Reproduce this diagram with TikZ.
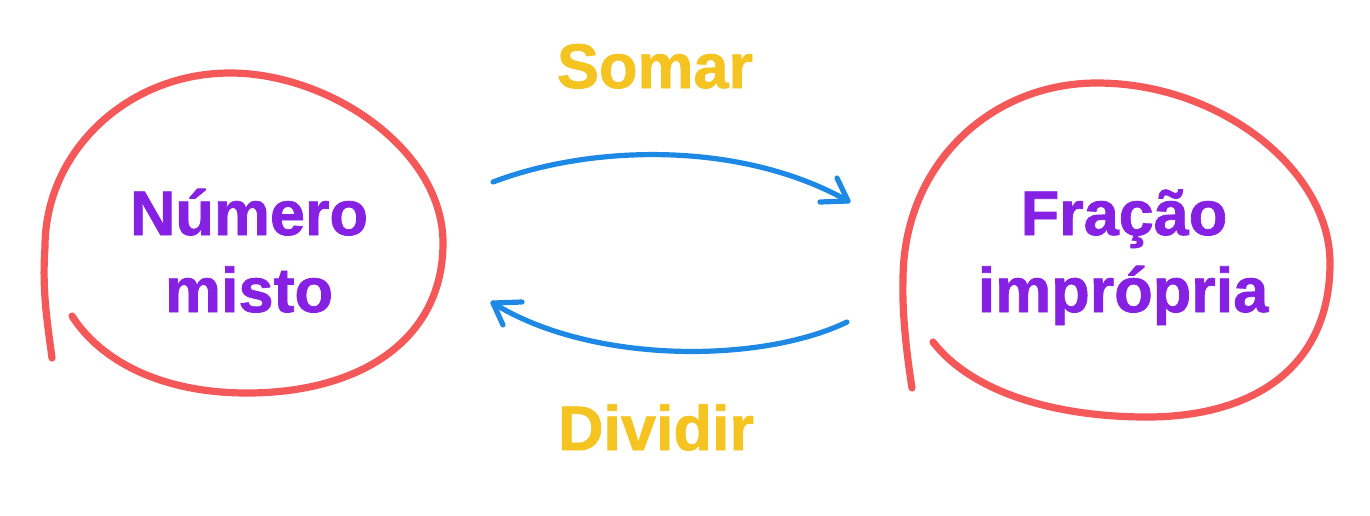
\documentclass[tikz,border=0pt]{standalone}
\usepackage{fontspec}
\setmainfont{Liberation Sans}[BoldFeatures={FakeBold=1.2}]
\definecolor{ringred}{HTML}{F55858}
\definecolor{txtpurple}{HTML}{8620E3}
\definecolor{arrblue}{HTML}{1E88E5}
\definecolor{lblyellow}{HTML}{F5C421}
\begin{document}
\begin{tikzpicture}[x=0.5pt,y=-0.5pt,
  ring/.style={draw=ringred,line width=3.6pt,line cap=round,line join=round},
  conn/.style={draw=arrblue,line width=2.6pt,line cap=round,line join=round},
  term/.style={font=\fontsize{31.5}{38}\selectfont\bfseries,text=txtpurple,anchor=base,inner sep=0pt},
  oplabel/.style={font=\fontsize{31.5}{38}\selectfont\bfseries,text=lblyellow,anchor=base,inner sep=0pt}]
\useasboundingbox[fill=white] (0,0) rectangle (1370,515);
% left ring
\draw[ring] (52,358) .. controls (47,320) and (42,290) .. (45,247)
  .. controls (45,151) and (128,73) .. (230,73)
  .. controls (330,73) and (443,150) .. (443,243)
  .. controls (443,340) and (360,393) .. (247,393)
  .. controls (160,393) and (100,360) .. (72,316);
% right ring
\draw[ring] (912,388) .. controls (906,350) and (902,310) .. (903,280)
  .. controls (903,165) and (990,83) .. (1097,83)
  .. controls (1220,83) and (1330,170) .. (1330,263)
  .. controls (1330,370) and (1250,417) .. (1147,417)
  .. controls (1050,417) and (970,390) .. (933,342);
% texts
\node[term] (n1a) at (249,235) {Número};
\node[term] (n1b) at (249,312) {misto};
\node[term] (n2a) at (1124,235) {Fração};
\node[term] (n2b) at (1123,312) {imprópria};
\node[oplabel] (som) at (655,88) {Somar};
\node[oplabel] (div) at (656,450) {Dividir};
% arrow coordinates
\coordinate (s1) at (493,182);
\coordinate (t1) at (848,201);
\coordinate (h1a) at (837,178);
\coordinate (h1b) at (820,202);
\coordinate (s2) at (847,322);
\coordinate (t2) at (493,303);
\coordinate (h2a) at (522,302);
\coordinate (h2b) at (503,325);
\draw[conn] (s1) .. controls (590,145) and (740,140) .. (t1);
\draw[conn] (h1a) -- (t1) -- (h1b);
\draw[conn] (s2) .. controls (760,364) and (590,364) .. (t2);
\draw[conn] (h2a) -- (t2) -- (h2b);
\end{tikzpicture}
\end{document}
